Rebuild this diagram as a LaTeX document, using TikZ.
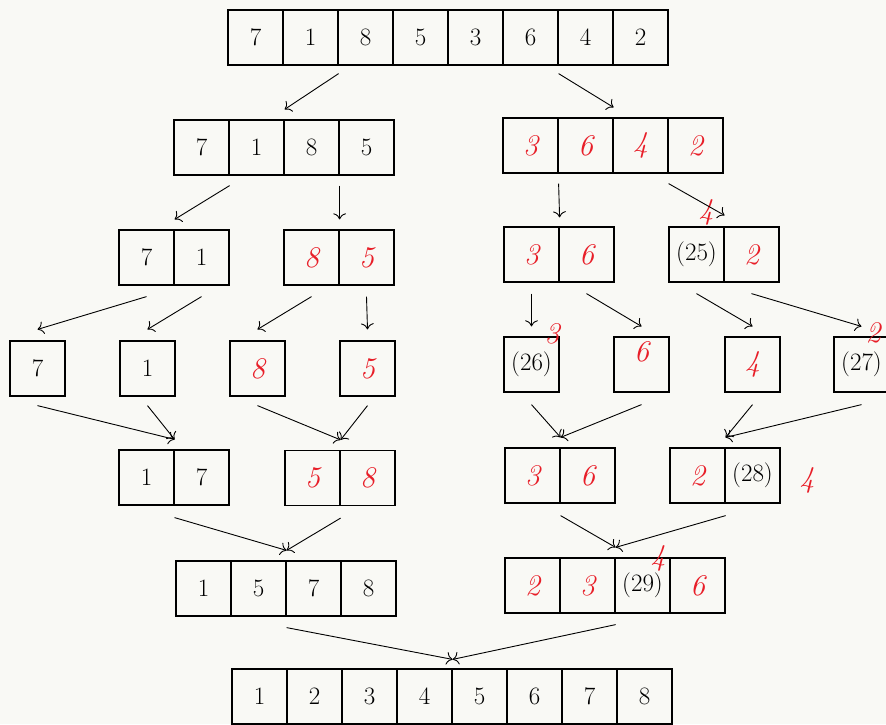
\documentclass[tikz,border=0pt]{standalone}
\usepackage{fontspec}
\usetikzlibrary{arrows.meta}
\definecolor{hred}{RGB}{232,30,40}
\definecolor{paper}{RGB}{249,249,245}
\begin{document}
\begin{tikzpicture}[x=1pt,y=-1pt,
  cell/.style={draw,line width=1.2pt,minimum width=55pt,minimum height=55pt,inner sep=0pt,font=\fontsize{25}{30}\selectfont},
  hand/.style={text=hred,font=\fontsize{30}{34}\selectfont\itshape},
  arr/.style={-{To[scale=1.7]},line width=0.9pt}]
\useasboundingbox (0,0) rectangle (886,724);
\fill[paper] (0,0) rectangle (886,724);
% row 1
\foreach \v [count=\i] in {7,1,8,5,3,6,4,2}
  \node[cell] (A\i) at ({255.5+55*(\i-1)},37.5) {\v};
% row 2
\foreach \v [count=\i] in {7,1,8,5}
  \node[cell] (B\i) at ({201.5+55*(\i-1)},147.5) {\v};
\foreach \v [count=\i] in {3,6,4,2}
  \node[cell,hand] (C\i) at ({530.5+55*(\i-1)},145.5) {\v};
% row 3
\foreach \v [count=\i] in {7,1}
  \node[cell] (D\i) at ({146.5+55*(\i-1)},257.5) {\v};
\foreach \v [count=\i] in {8,5}
  \node[cell,hand] (E\i) at ({311.5+55*(\i-1)},257.5) {\v};
\foreach \v [count=\i] in {3,6}
  \node[cell,hand] (F\i) at ({531.5+55*(\i-1)},254.5) {\v};
\node[cell] (G1) at (696.5,254.5) {(25)};
\node[cell,hand] (G2) at (751.5,254.5) {2};
\node[hand] (x25) at (706,212) {4};
% row 4
\node[cell] (H1) at (37.5,368.5) {7};
\node[cell] (H2) at (147.5,368.5) {1};
\node[cell,hand] (H3) at (257.5,368.5) {8};
\node[cell,hand] (H4) at (367.5,368.5) {5};
\node[cell] (I1) at (531.5,364.5) {(26)};
\node[cell,hand] (I2) at (641.5,364.5) {};
\node[hand] (x6) at (641.5,352) {6};
\node[cell,hand] (I3) at (752.5,364.5) {4};
\node[cell] (I4) at (861.5,364.5) {(27)};
\node[hand] (x26) at (552,334) {3};
\node[hand] (x27) at (873,333) {2};
% row 5
\foreach \v [count=\i] in {1,7}
  \node[cell] (J\i) at ({146.5+55*(\i-1)},477.5) {\v};
\foreach \v [count=\i] in {5,8}
  \node[cell,hand] (K\i) at ({312.5+55*(\i-1)},478) {\v};
\foreach \v [count=\i] in {3,6}
  \node[cell,hand] (L\i) at ({532.5+55*(\i-1)},475.5) {\v};
\node[cell,hand] (M1) at (697.5,475.5) {2};
\node[cell] (M2) at (752.5,475.5) {(28)};
\node[hand] (x28) at (807,480) {4};
% row 6
\foreach \v [count=\i] in {1,5,7,8}
  \node[cell] (N\i) at ({203.5+55*(\i-1)},588.5) {\v};
\node[cell,hand] (O1) at (532.5,585.5) {2};
\node[cell,hand] (O2) at (587.5,585.5) {3};
\node[cell] (O3) at (642.5,585.5) {(29)};
\node[cell,hand] (O4) at (697.5,585.5) {6};
\node[hand] (x29) at (658,558) {4};
% row 7
\foreach \v [count=\i] in {1,2,3,4,5,6,7,8}
  \node[cell] (P\i) at ({259.5+55*(\i-1)},696.5) {\v};
% arrows: split
\draw[arr] ([yshift=-8pt]A2.south east) -- ([yshift=10pt]B2.north east);
\draw[arr] ([yshift=-8pt]A6.south east) -- ([yshift=10pt]C2.north east);
\draw[arr] ([yshift=-10pt]B1.south east) -- ([yshift=10pt]D1.north east);
\draw[arr] ([yshift=-10pt]B3.south east) -- ([yshift=10pt]E1.north east);
\draw[arr] ([yshift=-10pt]C1.south east) -- ([yshift=9pt]F1.north east);
\draw[arr] ([yshift=-10pt]C3.south east) -- ([yshift=11pt]G1.north east);
\draw[arr] ([yshift=-11pt]D1.south) -- ([yshift=11pt]H1.north);
\draw[arr] ([yshift=-11pt]D2.south) -- ([yshift=11pt]H2.north);
\draw[arr] ([yshift=-11pt]E1.south) -- ([yshift=11pt]H3.north);
\draw[arr] ([yshift=-11pt]E2.south) -- ([yshift=11pt]H4.north);
\draw[arr] ([yshift=-11pt]F1.south) -- ([yshift=10pt]I1.north);
\draw[arr] ([yshift=-11pt]F2.south) -- ([yshift=10pt]I2.north);
\draw[arr] ([yshift=-11pt]G1.south) -- ([yshift=10pt]I3.north);
\draw[arr] ([yshift=-11pt]G2.south) -- ([yshift=10pt]I4.north);
% arrows: merge
\draw[arr] ([yshift=-9pt]H1.south) -- ([yshift=10pt]J1.north east);
\draw[arr] ([yshift=-9pt]H2.south) -- ([yshift=10pt]J1.north east);
\draw[arr] ([yshift=-9pt]H3.south) -- ([yshift=10pt]K1.north east);
\draw[arr] ([yshift=-9pt]H4.south) -- ([yshift=10pt]K1.north east);
\draw[arr] ([yshift=-12pt]I1.south) -- ([yshift=10pt]L1.north east);
\draw[arr] ([yshift=-12pt]I2.south) -- ([yshift=10pt]L1.north east);
\draw[arr] ([yshift=-12pt]I3.south) -- ([yshift=10pt]M1.north east);
\draw[arr] ([yshift=-12pt]I4.south) -- ([yshift=10pt]M1.north east);
\draw[arr] ([yshift=-12pt]J1.south east) -- ([yshift=10pt]N2.north east);
\draw[arr] ([yshift=-12pt]K1.south east) -- ([yshift=10pt]N2.north east);
\draw[arr] ([yshift=-12pt]L1.south east) -- ([yshift=10pt]O2.north east);
\draw[arr] ([yshift=-12pt]M1.south east) -- ([yshift=10pt]O2.north east);
\draw[arr] ([yshift=-11pt]N2.south east) -- ([yshift=9pt]P4.north east);
\draw[arr] ([yshift=-11pt]O2.south east) -- ([yshift=9pt]P4.north east);
\end{tikzpicture}
\end{document}
